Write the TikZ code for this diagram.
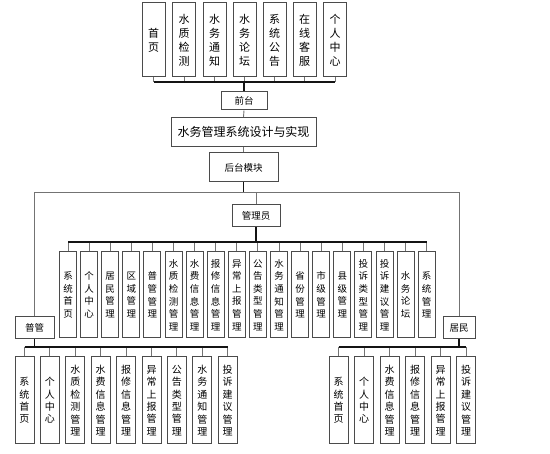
\documentclass[tikz,border=0pt]{standalone}
\usepackage{fontspec}
\newfontfamily\cjk{Noto Sans CJK SC}
\usepackage{xcolor}
\definecolor{wmsdark}{RGB}{75, 75, 75}
\definecolor{wmsline}{RGB}{115, 115, 115}
\definecolor{wmsbus}{RGB}{20, 20, 20}

\begin{document}
\begin{tikzpicture}[x=1pt, y=-1pt,
    caja/.style={draw=wmsdark, line width=1pt, fill=white, inner sep=0pt, align=center},
    colalta/.style={caja, minimum width=23pt, minimum height=74pt, font=\cjk\fontsize{11}{14}\selectfont},
    colmedia/.style={caja, minimum width=17pt, minimum height=86pt, font=\cjk\fontsize{9.5}{12.6}\selectfont},
    colbaja/.style={caja, minimum width=19pt, minimum height=87pt, font=\cjk\fontsize{10}{12.4}\selectfont},
    etiqueta/.style={caja, font=\cjk\fontsize{9.5}{11}\selectfont},
    rama/.style={draw=wmsline, line width=0.9pt},
    tronco/.style={draw=wmsbus, line width=1.6pt}]

\fill[white] (0,0) rectangle (550,454);
\useasboundingbox (0,0) rectangle (550,454);

% === Modulos del frontal ===
\node[colalta] (qt1) at (153.5,40) {首\\页};
\node[colalta] (qt2) at (184,40) {水\\质\\检\\测};
\node[colalta] (qt3) at (214.5,40) {水\\务\\通\\知};
\node[colalta] (qt4) at (244.5,40) {水\\务\\论\\坛};
\node[colalta] (qt5) at (274.5,40) {系\\统\\公\\告};
\node[colalta] (qt6) at (304.5,40) {在\\线\\客\\服};
\node[colalta] (qt7) at (335,40) {个\\人\\中\\心};

% === Bloques centrales ===
\node[etiqueta, minimum width=46pt, minimum height=18pt] (qiantai) at (244,101) {前台};
\node[caja, minimum width=145pt, minimum height=29pt, font=\cjk\fontsize{12}{14}\selectfont]
    (titulo) at (243.5,132) {水务管理系统设计与实现};
\node[etiqueta, minimum width=69pt, minimum height=29pt] (houtai) at (243.5,167.5) {后台模块};
\node[etiqueta, minimum width=48pt, minimum height=22pt] (guanli) at (256,216) {管理员};
\node[etiqueta, minimum width=39pt, minimum height=22pt] (putong) at (34.5,328) {普管};
\node[etiqueta, minimum width=32pt, minimum height=22pt] (jumin) at (459,328) {居民};

% === Modulos del administrador ===
\node[colmedia] (gl1) at (68,295) {系\\统\\首\\页};
\node[colmedia] (gl2) at (89.1,295) {个\\人\\中\\心};
\node[colmedia] (gl3) at (110.2,295) {居\\民\\管\\理};
\node[colmedia] (gl4) at (131.3,295) {区\\域\\管\\理};
\node[colmedia] (gl5) at (152.4,295) {普\\管\\管\\理};
\node[colmedia] (gl6) at (173.5,295) {水\\质\\检\\测\\管\\理};
\node[colmedia] (gl7) at (194.6,295) {水\\费\\信\\息\\管\\理};
\node[colmedia] (gl8) at (215.7,295) {报\\修\\信\\息\\管\\理};
\node[colmedia] (gl9) at (236.8,295) {异\\常\\上\\报\\管\\理};
\node[colmedia] (gl10) at (257.9,295) {公\\告\\类\\型\\管\\理};
\node[colmedia] (gl11) at (279,295) {水\\务\\通\\知\\管\\理};
\node[colmedia] (gl12) at (300.1,295) {省\\份\\管\\理};
\node[colmedia] (gl13) at (321.2,295) {市\\级\\管\\理};
\node[colmedia] (gl14) at (342.3,295) {县\\级\\管\\理};
\node[colmedia] (gl15) at (363.4,295) {投\\诉\\类\\型\\管\\理};
\node[colmedia] (gl16) at (384.5,295) {投\\诉\\建\\议\\管\\理};
\node[colmedia] (gl17) at (405.6,295) {水\\务\\论\\坛};
\node[colmedia] (gl18) at (426.7,295) {系\\统\\管\\理};

% === Modulos del usuario normal ===
\node[colbaja] (pt1) at (24.5,400.5) {系\\统\\首\\页};
\node[colbaja] (pt2) at (49.9,400.5) {个\\人\\中\\心};
\node[colbaja] (pt3) at (75.3,400.5) {水\\质\\检\\测\\管\\理};
\node[colbaja] (pt4) at (100.7,400.5) {水\\费\\信\\息\\管\\理};
\node[colbaja] (pt5) at (126.1,400.5) {报\\修\\信\\息\\管\\理};
\node[colbaja] (pt6) at (151.5,400.5) {异\\常\\上\\报\\管\\理};
\node[colbaja] (pt7) at (176.9,400.5) {公\\告\\类\\型\\管\\理};
\node[colbaja] (pt8) at (202.3,400.5) {水\\务\\通\\知\\管\\理};
\node[colbaja] (pt9) at (227.7,400.5) {投\\诉\\建\\议\\管\\理};

% === Modulos del residente ===
\node[colbaja] (jm1) at (338.5,400.5) {系\\统\\首\\页};
\node[colbaja] (jm2) at (364,400.5) {个\\人\\中\\心};
\node[colbaja] (jm3) at (389.5,400.5) {水\\费\\信\\息\\管\\理};
\node[colbaja] (jm4) at (415,400.5) {报\\修\\信\\息\\管\\理};
\node[colbaja] (jm5) at (440.5,400.5) {异\\常\\上\\报\\管\\理};
\node[colbaja] (jm6) at (466,400.5) {投\\诉\\建\\议\\管\\理};

% === Buses de conexion ===
\coordinate (busqt) at (244,82);
\coordinate (busgen) at (243.5,192);
\coordinate (busgl) at (256,242);
\coordinate (buspt) at (34.5,347);
\coordinate (busjm) at (459,347);

% Frontal
\draw[rama] (qt1.south) -- (qt1.south |- busqt) (qt2.south) -- (qt2.south |- busqt)
    (qt3.south) -- (qt3.south |- busqt) (qt4.south) -- (qt4.south |- busqt)
    (qt5.south) -- (qt5.south |- busqt) (qt6.south) -- (qt6.south |- busqt)
    (qt7.south) -- (qt7.south |- busqt);
\draw[tronco] (qt1.south |- busqt) -- (qt7.south |- busqt);
\draw[tronco] (busqt) -- (qiantai.north);
\draw[rama] (qiantai.south) -- (titulo.north);
\draw[rama] (titulo.south) -- (houtai.north);

% Reparto del backend
\draw[tronco] (houtai.south) -- (busgen);
\draw[rama] (putong.north) -- (putong.north |- busgen) -- (jumin.north |- busgen) -- (jumin.north);
\draw[rama] (guanli.north) -- (guanli.north |- busgen);

% Administrador
\draw[tronco] (guanli.south) -- (busgl);
\draw[rama] (gl1.north) -- (gl1.north |- busgl) (gl2.north) -- (gl2.north |- busgl)
    (gl3.north) -- (gl3.north |- busgl) (gl4.north) -- (gl4.north |- busgl)
    (gl5.north) -- (gl5.north |- busgl) (gl6.north) -- (gl6.north |- busgl)
    (gl7.north) -- (gl7.north |- busgl) (gl8.north) -- (gl8.north |- busgl)
    (gl9.north) -- (gl9.north |- busgl) (gl10.north) -- (gl10.north |- busgl)
    (gl11.north) -- (gl11.north |- busgl) (gl12.north) -- (gl12.north |- busgl)
    (gl13.north) -- (gl13.north |- busgl) (gl14.north) -- (gl14.north |- busgl)
    (gl15.north) -- (gl15.north |- busgl) (gl16.north) -- (gl16.north |- busgl)
    (gl17.north) -- (gl17.north |- busgl) (gl18.north) -- (gl18.north |- busgl);
\draw[tronco] (gl1.north |- busgl) -- (gl18.north |- busgl);

% Usuario normal
\draw[tronco] (putong.south) -- (buspt);
\draw[rama] (pt1.north) -- (pt1.north |- buspt) (pt2.north) -- (pt2.north |- buspt)
    (pt3.north) -- (pt3.north |- buspt) (pt4.north) -- (pt4.north |- buspt)
    (pt5.north) -- (pt5.north |- buspt) (pt6.north) -- (pt6.north |- buspt)
    (pt7.north) -- (pt7.north |- buspt) (pt8.north) -- (pt8.north |- buspt)
    (pt9.north) -- (pt9.north |- buspt);
\draw[tronco] (pt1.north |- buspt) -- (pt9.north |- buspt);

% Residente
\draw[tronco] (jumin.south) -- (busjm);
\draw[rama] (jm1.north) -- (jm1.north |- busjm) (jm2.north) -- (jm2.north |- busjm)
    (jm3.north) -- (jm3.north |- busjm) (jm4.north) -- (jm4.north |- busjm)
    (jm5.north) -- (jm5.north |- busjm) (jm6.north) -- (jm6.north |- busjm);
\draw[tronco] (jm1.north |- busjm) -- (jm6.north |- busjm);

\end{tikzpicture}
\end{document}
